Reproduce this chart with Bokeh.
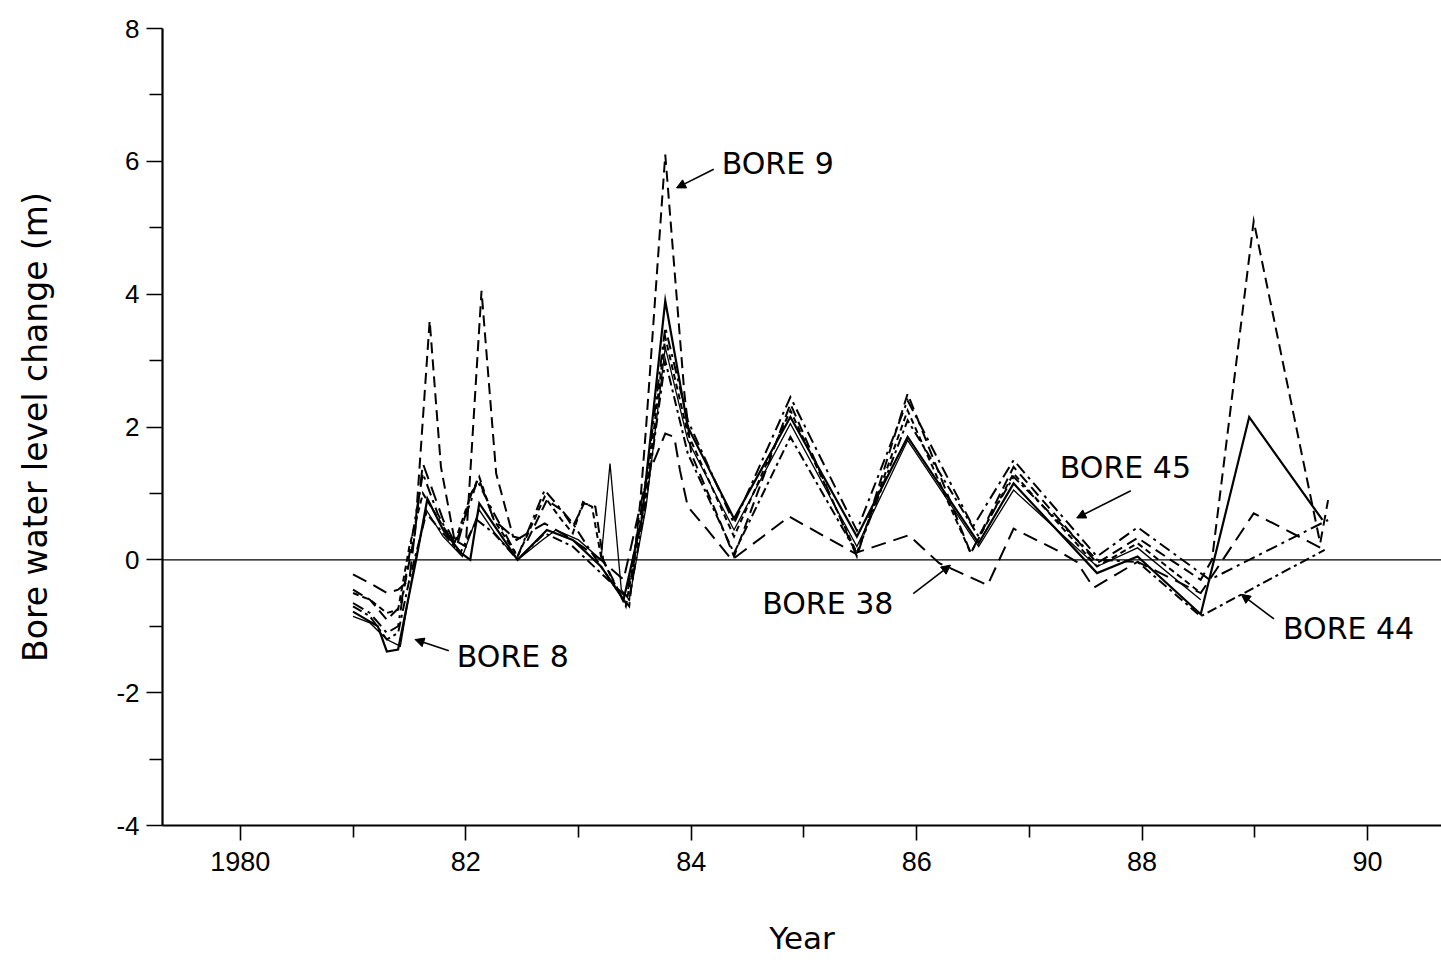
from bokeh.plotting import figure
from bokeh.models import FixedTicker, Span, Arrow, NormalHead, Range1d, ColumnDataSource
from bokeh.core.properties import value
from bokeh.embed import file_html
from bokeh.resources import INLINE

# ---- axis ticks ----
year_major = [1980, 1982, 1984, 1986, 1988, 1990]
year_minor = [1981, 1983, 1985, 1987, 1989]
year_labels = ["1980", "82", "84", "86", "88", "90"]
level_major = [-4, -2, 0, 2, 4, 6, 8]
level_minor = [-3, -1, 1, 3, 5, 7]
level_labels = ["-4", "-2", "0", "2", "4", "6", "8"]

# ---- series (year, water level change in m) ----
bore8_x = [1981.0, 1981.12, 1981.22, 1981.3, 1981.4, 1981.56, 1981.66, 1981.8, 1981.96, 1982.04,
           1982.12, 1982.26, 1982.46, 1982.72, 1982.95, 1983.2, 1983.4, 1983.56, 1983.77, 1983.97,
           1984.38, 1984.88, 1985.47, 1985.92, 1986.55, 1986.86, 1987.6, 1987.96, 1988.52, 1988.95, 1989.6]
bore8_y = [-0.78, -0.9, -1.0, -1.38, -1.35, 0.0, 0.92, 0.45, 0.1, 0.0,
           0.85, 0.5, 0.0, 0.45, 0.3, -0.1, -0.6, 0.6, 3.9, 2.0,
           0.62, 2.15, 0.35, 1.85, 0.25, 1.15, -0.2, 0.05, -0.82, 2.15, 0.6]

boreF_x = [1981.0, 1981.15, 1981.3, 1981.42, 1981.53, 1981.65, 1981.8, 1981.97, 1982.12, 1982.26,
           1982.46, 1982.68, 1982.8, 1983.0, 1983.2, 1983.28, 1983.38, 1983.45, 1983.6, 1983.77,
           1983.97, 1984.38, 1984.88, 1985.47, 1985.92, 1986.55, 1986.86, 1987.6, 1987.96, 1988.52]
boreF_y = [-0.85, -0.95, -1.2, -1.3, -0.2, 0.75, 0.35, 0.05, 0.75, 0.4,
           0.0, 0.3, 0.45, 0.3, 0.0, 1.45, -0.45, -0.6, 0.8, 3.2,
           1.8, 0.45, 2.05, 0.2, 1.8, 0.2, 1.05, -0.1, 0.18, -0.6]

bore9_x = [1981.0, 1981.15, 1981.3, 1981.42, 1981.55, 1981.68, 1981.78, 1981.9, 1982.0, 1982.14,
           1982.27, 1982.42, 1982.55, 1982.72, 1982.85, 1982.95, 1983.05, 1983.15, 1983.22, 1983.38,
           1983.45, 1983.55, 1983.6, 1983.77, 1983.94, 1984.0, 1984.25, 1984.38, 1984.88, 1985.47,
           1985.92, 1986.48, 1986.86, 1987.6, 1987.96, 1988.52, 1988.62, 1988.99, 1989.58, 1989.65]
bore9_y = [-0.45, -0.6, -0.9, -0.7, 0.4, 3.6, 1.4, 0.3, 0.2, 4.05,
           1.3, 0.35, 0.3, 0.9, 0.75, 0.5, 0.85, 0.8, 0.0, -0.55,
           -0.7, 0.9, 2.0, 6.1, 2.5, 1.6, 0.6, 0.05, 2.35, 0.05,
           2.5, 0.1, 1.4, -0.05, 0.33, -0.3, 0.0, 5.1, 0.25, 0.9]

bore38_x = [1981.0, 1981.15, 1981.3, 1981.4, 1981.5, 1981.62, 1981.8, 1981.92, 1982.05, 1982.12,
            1982.25, 1982.45, 1982.7, 1982.95, 1983.2, 1983.4, 1983.6, 1983.77, 1983.85, 1983.9,
            1983.97, 1984.15, 1984.36, 1984.87, 1985.45, 1985.93, 1986.2, 1986.63, 1986.86, 1987.25,
            1987.42, 1987.57, 1987.96, 1988.52, 1988.99, 1989.62]
bore38_y = [-0.22, -0.35, -0.5, -0.45, -0.3, 1.45, 0.6, 0.2, 1.0, 1.2,
            0.6, 0.3, 0.55, 0.3, 0.0, -0.3, 1.2, 1.9, 1.85, 1.35,
            0.8, 0.44, 0.0, 0.65, 0.1, 0.37, -0.05, -0.38, 0.47, 0.14,
            -0.03, -0.42, -0.03, -0.5, 0.7, 0.15]

bore45_x = [1981.0, 1981.15, 1981.3, 1981.4, 1981.52, 1981.62, 1981.75, 1981.9, 1982.05, 1982.1,
            1982.25, 1982.46, 1982.7, 1982.85, 1982.95, 1983.1, 1983.2, 1983.42, 1983.6, 1983.77,
            1983.97, 1984.38, 1984.88, 1985.47, 1985.92, 1986.5, 1986.86, 1987.6, 1987.96, 1988.6, 1989.65]
bore45_y = [-0.65, -0.8, -1.1, -1.0, 0.3, 1.3, 0.7, 0.2, 0.9, 1.2,
            0.7, 0.05, 1.05, 0.75, 0.55, 0.15, -0.1, -0.65, 1.2, 3.5,
            2.1, 0.55, 2.45, 0.44, 2.4, 0.5, 1.5, 0.05, 0.49, -0.3, 0.6]

bore44_x = [1981.0, 1981.15, 1981.3, 1981.4, 1981.5, 1981.65, 1981.8, 1981.95, 1982.1, 1982.25,
            1982.46, 1982.7, 1982.95, 1983.2, 1983.45, 1983.6, 1983.77, 1983.97, 1984.38, 1984.88,
            1985.47, 1985.92, 1986.55, 1986.86, 1987.6, 1987.96, 1988.52, 1989.62]
bore44_y = [-0.7, -0.85, -1.2, -1.1, -0.3, 0.7, 0.4, 0.1, 0.6, 0.4,
            0.0, 0.4, 0.2, -0.2, -0.6, 0.9, 3.0, 1.6, 0.1, 1.85,
            0.1, 2.1, 0.35, 1.25, 0.0, -0.03, -0.85, 0.15]

boreG_x = [1981.0, 1981.15, 1981.3, 1981.4, 1981.5, 1981.62, 1981.8, 1981.9, 1982.05, 1982.12,
           1982.25, 1982.46, 1982.7, 1982.85, 1982.95, 1983.04, 1983.12, 1983.2, 1983.42, 1983.6,
           1983.77, 1983.97, 1984.38, 1984.88, 1985.47, 1985.92, 1986.48, 1986.86, 1987.6, 1987.96, 1988.52]
boreG_y = [-0.5, -0.6, -0.8, -0.75, 0.2, 1.0, 0.5, 0.25, 1.0, 1.25,
           0.6, 0.05, 0.95, 0.6, 0.4, 0.87, 0.8, 0.05, -0.7, 1.0,
           3.35, 1.9, 0.35, 2.25, 0.1, 2.25, 0.1, 1.3, -0.1, 0.25, -0.5]

# ---- annotation labels ----
label_text = ["BORE 9", "BORE 8", "BORE 38", "BORE 45", "BORE 44"]
label_x = [1984.27, 1981.92, 1984.63, 1987.27, 1989.25]
label_y = [5.96, -1.45, -0.66, 1.39, -1.04]
arrow_x0 = [1984.2, 1981.85, 1985.97, 1987.9, 1989.17]
arrow_y0 = [5.88, -1.37, -0.51, 1.04, -0.89]
arrow_x1 = [1983.87, 1981.55, 1986.3, 1987.42, 1988.88]
arrow_y1 = [5.6, -1.2, -0.08, 0.63, -0.52]

p = figure(frame_width=1279, frame_height=797,
           x_range=Range1d(1979.31, 1990.656), y_range=Range1d(-4, 8),
           output_backend="svg", toolbar_location=None,
           min_border_left=162, min_border_right=0, min_border_top=28, min_border_bottom=128)
p.background_fill_color = "white"
p.border_fill_color = "white"
p.outline_line_color = None
p.xgrid.visible = False
p.ygrid.visible = False

# zero line
p.add_layout(Span(location=0, dimension="width", line_color="black", line_width=1.4))

styles = [
    (bore45_x, bore45_y, "12 5 3 5", 2.0),
    (bore44_x, bore44_y, "10 4 3 4", 2.0),
    (boreG_x, boreG_y, "6 4", 2.0),
    (bore38_x, bore38_y, "15 8", 2.0),
    (boreF_x, boreF_y, "solid", 1.3),
    (bore9_x, bore9_y, "11 6", 2.0),
    (bore8_x, bore8_y, "solid", 2.2),
]
for xs, ys, dash, lw in styles:
    p.line(xs, ys, line_color="black", line_width=lw, line_dash=dash, line_join="miter")

src = ColumnDataSource(dict(x=label_x, y=label_y, t=label_text))
p.text(x="x", y="y", text="t", source=src, text_font=value("DejaVu Sans"),
       text_font_size="30px", text_baseline="middle", text_align="left", text_color="black")

for xa, ya, xb, yb in zip(arrow_x0, arrow_y0, arrow_x1, arrow_y1):
    p.add_layout(Arrow(end=NormalHead(size=9, fill_color="black", line_color="black"),
                       x_start=xa, y_start=ya, x_end=xb, y_end=yb,
                       line_color="black", line_width=1.6))

# x axis
xa = p.xaxis[0]
xa.ticker = FixedTicker(ticks=year_major, minor_ticks=year_minor)
xa.major_label_overrides = {t: l for t, l in zip(year_major, year_labels)}
xa.axis_label = "Year"
xa.axis_label_text_font = "DejaVu Sans"
xa.axis_label_text_font_size = "31px"
xa.axis_label_text_font_style = "normal"
xa.axis_label_text_color = "black"
xa.axis_label_standoff = 46
xa.major_label_text_font = "Liberation Sans"
xa.major_label_text_font_size = "27px"
xa.major_label_text_color = "black"
xa.major_label_standoff = 11
xa.axis_line_width = 2.2
xa.major_tick_line_width = 1.6
xa.minor_tick_line_width = 1.6
xa.major_tick_out = 15
xa.major_tick_in = 0
xa.minor_tick_out = 12
xa.minor_tick_in = 0

# y axis
ya = p.yaxis[0]
ya.ticker = FixedTicker(ticks=level_major, minor_ticks=level_minor)
ya.major_label_overrides = {t: l for t, l in zip(level_major, level_labels)}
ya.axis_label = "Bore water level change (m)"
ya.axis_label_text_font = "DejaVu Sans"
ya.axis_label_text_font_size = "33px"
ya.axis_label_text_font_style = "normal"
ya.axis_label_text_color = "black"
ya.axis_label_standoff = 58
ya.major_label_text_font = "Liberation Sans"
ya.major_label_text_font_size = "26px"
ya.major_label_text_color = "black"
ya.major_label_standoff = 7
ya.axis_line_width = 2.2
ya.major_tick_line_width = 1.6
ya.minor_tick_line_width = 1.6
ya.major_tick_out = 16
ya.major_tick_in = 0
ya.minor_tick_out = 13
ya.minor_tick_in = 0

open("out.html", "w").write(file_html(p, INLINE))
